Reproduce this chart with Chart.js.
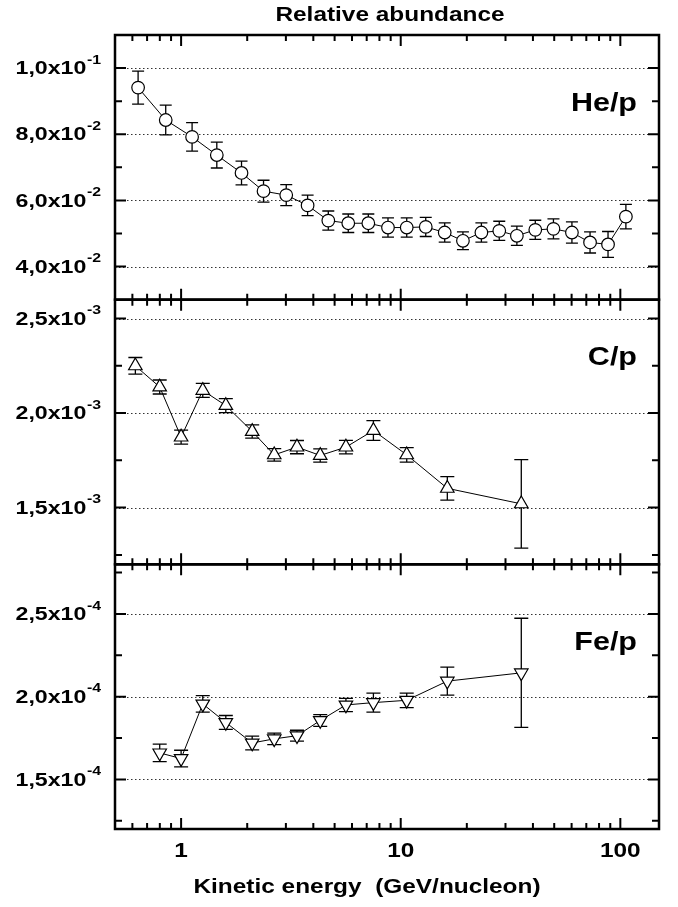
<!DOCTYPE html>
<html>
<head>
<meta charset="utf-8">
<title>Relative abundance</title>
<script src="https://cdn.jsdelivr.net/npm/chart.js@4.4.0/dist/chart.umd.min.js"></script>
<style>
  body { margin: 0; background: #fff; }
  canvas { display: block; }
</style>
</head>
<body>
<canvas id="abundanceChart" width="678" height="907"></canvas>
<script>
// values (GeV/nucleon, ratio, +/- error)
const heEnergy = [0.637, 0.851, 1.122, 1.454, 1.884, 2.373, 3.011, 3.767, 4.68, 5.77, 7.12, 8.75, 10.65,
                  13.0, 15.86, 19.2, 23.3, 28.1, 33.8, 41.0, 49.6, 60.2, 72.8, 87.9, 106];
const heRatio = [0.0941, 0.0843, 0.0792, 0.0737, 0.0683, 0.0628, 0.0616, 0.0585, 0.0539, 0.0531, 0.0531, 0.0518, 0.0518,
                 0.0520, 0.0503, 0.0478, 0.0503, 0.0508, 0.0493, 0.0511, 0.0514, 0.0503, 0.0473, 0.0467, 0.0551];
const heErr = [0.0050, 0.0045, 0.0043, 0.0039, 0.0036, 0.0033, 0.0032, 0.0031, 0.0029, 0.0028, 0.0028, 0.0029, 0.0029,
               0.0029, 0.0029, 0.0027, 0.0029, 0.0029, 0.0029, 0.0029, 0.0030, 0.0032, 0.0032, 0.0039, 0.0037];

const cEnergy = [0.619, 0.799, 1.0, 1.255, 1.598, 2.107, 2.655, 3.37, 4.3, 5.63, 7.51, 10.65, 16.3, 35.4];
const cRatio = [0.00225, 0.002138, 0.001873, 0.00212, 0.00204, 0.001903, 0.001779, 0.00182, 0.001776, 0.00182,
                0.001908, 0.001779, 0.001602, 0.00152];
const cErr = [0.000044, 0.000037, 0.000037, 0.000037, 0.000037, 0.000035, 0.000033, 0.000035, 0.000035, 0.000036,
              0.000052, 0.000038, 0.000062, 0.000234];

const feEnergy = [0.799, 1.0, 1.255, 1.598, 2.107, 2.655, 3.37, 4.3, 5.63, 7.51, 10.65, 16.3, 35.4];
const feRatio = [1.66e-4, 1.626e-4, 1.956e-4, 1.844e-4, 1.72e-4, 1.745e-4, 1.764e-4, 1.856e-4, 1.95e-4, 1.964e-4,
                 1.978e-4, 2.094e-4, 2.144e-4];
const feErr = [0.053e-4, 0.05e-4, 0.05e-4, 0.042e-4, 0.042e-4, 0.035e-4, 0.033e-4, 0.035e-4, 0.04e-4, 0.058e-4,
               0.044e-4, 0.085e-4, 0.33e-4];

const xLabelValues = [1, 10, 100];
const xLabels = ['1', '10', '100'];

const FONT = '"Liberation Sans", Arial, sans-serif';
const SX = 1.22; // glyphs in the figure are a bit wide

// panels from top to bottom
const panels = [
  { id: 'yHe', name: 'He/p', x: heEnergy, y: heRatio, err: heErr, min: 0.03, max: 0.11, minor: 0.01, major: 0.02, labelAt: 0.0892, marker: 'circle', rot: 0, cap: 6 },
  { id: 'yC', name: 'C/p', x: cEnergy, y: cRatio, err: cErr, min: 0.0012, max: 0.0026, minor: 0.00025, major: 0.0005, labelAt: 0.00229, marker: 'triangle', rot: 0, cap: 7 },
  { id: 'yFe', name: 'Fe/p', x: feEnergy, y: feRatio, err: feErr, min: 1.2e-4, max: 2.8e-4, minor: 0.25e-4, major: 0.5e-4, labelAt: 2.324e-4, marker: 'triangle', rot: 180, cap: 7 }
];

function onStep(v, step) {
  const r = v / step;
  return Math.abs(r - Math.round(r)) < 1e-6;
}

// tick values strictly inside the panel range
function stepValues(p) {
  const out = [];
  const k0 = Math.ceil(p.min / p.minor - 1e-6);
  const k1 = Math.floor(p.max / p.minor + 1e-6);
  for (let k = k0; k <= k1; k++) {
    const v = +(k * p.minor).toPrecision(6);
    if (v > p.min && v < p.max) out.push(v);
  }
  return out;
}

function stretchText(ctx, text, x, y, size, align) {
  ctx.save();
  ctx.font = 'bold ' + size + 'px ' + FONT;
  ctx.translate(x, y);
  ctx.scale(SX, 1);
  ctx.textAlign = align;
  ctx.textBaseline = 'middle';
  ctx.fillStyle = '#000';
  ctx.fillText(text, 0, 0);
  ctx.restore();
}

function powerLabel(ctx, value, right, y) {
  const exp = Math.floor(Math.log10(value) + 1e-9);
  const mant = (value / Math.pow(10, exp)).toFixed(1).replace('.', ',');
  ctx.font = 'bold 13px ' + FONT;
  const we = ctx.measureText(String(exp)).width * SX;
  stretchText(ctx, String(exp), right - we, y - 8, 13, 'left');
  stretchText(ctx, mant + 'x10', right - we - 0.5, y + 1, 19, 'right');
}

const framePlugin = {
  id: 'frame',
  beforeDatasetsDraw(chart) {
    const ctx = chart.ctx;
    const area = chart.chartArea;
    const xs = chart.scales.x;
    ctx.save();

    // dotted grid lines at the labelled values
    ctx.strokeStyle = '#333';
    ctx.lineWidth = 1;
    ctx.setLineDash([1.5, 2.5]);
    panels.forEach(p => {
      const ys = chart.scales[p.id];
      ctx.beginPath();
      stepValues(p).filter(v => onStep(v, p.major)).forEach(v => {
        const py = Math.round(ys.getPixelForValue(v)) + 0.5;
        ctx.moveTo(area.left, py); ctx.lineTo(area.right, py);
      });
      ctx.stroke();
    });
    ctx.setLineDash([]);

    // error bars
    ctx.strokeStyle = '#000';
    ctx.lineWidth = 1.3;
    panels.forEach(p => {
      const ys = chart.scales[p.id];
      p.x.forEach((e, i) => {
        const px = xs.getPixelForValue(e);
        const top = ys.getPixelForValue(p.y[i] + p.err[i]);
        const bot = ys.getPixelForValue(p.y[i] - p.err[i]);
        ctx.beginPath();
        ctx.moveTo(px, top); ctx.lineTo(px, bot);
        ctx.moveTo(px - p.cap, top); ctx.lineTo(px + p.cap, top);
        ctx.moveTo(px - p.cap, bot); ctx.lineTo(px + p.cap, bot);
        ctx.stroke();
      });
    });
    ctx.restore();
  },
  afterDraw(chart) {
    const ctx = chart.ctx;
    const area = chart.chartArea;
    const xs = chart.scales.x;

    // x tick positions: 1..9 per decade inside the range
    const xTicks = [];
    [0.1, 1, 10, 100].forEach(d => {
      for (let m = 1; m <= 9; m++) {
        const v = +(m * d).toPrecision(3);
        if (v > xs.min && v < xs.max) xTicks.push({ v: v, major: m === 1 });
      }
    });

    ctx.save();
    ctx.strokeStyle = '#000';
    panels.forEach(p => {
      const ys = chart.scales[p.id];
      const yVals = stepValues(p);
      ctx.lineWidth = 2;
      ctx.beginPath();
      xTicks.forEach(t => {
        const px = xs.getPixelForValue(t.v);
        const len = t.major ? 11 : 6;
        ctx.moveTo(px, ys.top); ctx.lineTo(px, ys.top + len);
        ctx.moveTo(px, ys.bottom); ctx.lineTo(px, ys.bottom - len);
      });
      yVals.forEach(v => {
        const py = ys.getPixelForValue(v);
        const len = onStep(v, p.major) ? 11 : 7;
        ctx.moveTo(area.left, py); ctx.lineTo(area.left + len, py);
        ctx.moveTo(area.right, py); ctx.lineTo(area.right - len, py);
      });
      ctx.stroke();

      ctx.lineWidth = 2.5;
      ctx.strokeRect(area.left, ys.top, area.right - area.left, ys.bottom - ys.top);

      yVals.filter(v => onStep(v, p.major)).forEach(v => {
        powerLabel(ctx, v, area.left - 14, ys.getPixelForValue(v));
      });

      stretchText(ctx, p.name, area.right - 22, ys.getPixelForValue(p.labelAt), 25, 'right');
    });

    xLabelValues.forEach((v, i) => {
      stretchText(ctx, xLabels[i], xs.getPixelForValue(v), area.bottom + 22, 20, 'center');
    });
    stretchText(ctx, 'Kinetic energy  (GeV/nucleon)', 367, area.bottom + 58, 20, 'center');
    stretchText(ctx, 'Relative abundance', 390, 15, 20, 'center');
    ctx.restore();
  }
};

function yScale(p, weight) {
  return {
    type: 'linear',
    position: 'left',
    stack: 'panels',
    stackWeight: 1,
    weight: weight,
    min: p.min,
    max: p.max,
    ticks: { display: false },
    grid: { display: false, drawTicks: false },
    border: { display: false },
    afterFit: s => { s.width = 115; }
  };
}

const datasets = panels.map(p => ({
  label: p.name,
  data: p.x.map((e, i) => ({ x: e, y: p.y[i] })),
  xAxisID: 'x',
  yAxisID: p.id,
  borderColor: '#000',
  borderWidth: 1,
  pointStyle: p.marker,
  rotation: p.rot,
  pointRadius: p.marker === 'circle' ? 6.3 : 7.8,
  pointBackgroundColor: '#fff',
  pointBorderColor: '#000',
  pointBorderWidth: 1.2,
  tension: 0,
  fill: false
}));

new Chart(document.getElementById('abundanceChart').getContext('2d'), {
  type: 'line',
  data: { datasets: datasets },
  options: {
    responsive: false,
    animation: false,
    layout: { padding: { top: 35, right: 19, left: 0, bottom: 0 } },
    plugins: { legend: { display: false }, tooltip: { enabled: false } },
    scales: {
      x: {
        type: 'logarithmic',
        position: 'bottom',
        min: 0.5,
        max: 150,
        ticks: { display: false },
        grid: { display: false, drawTicks: false },
        border: { display: false },
        afterFit: s => { s.height = 78; }
      },
      yFe: yScale(panels[2], 1),
      yC: yScale(panels[1], 2),
      yHe: yScale(panels[0], 3)
    }
  },
  plugins: [framePlugin]
});
</script>
</body>
</html>
